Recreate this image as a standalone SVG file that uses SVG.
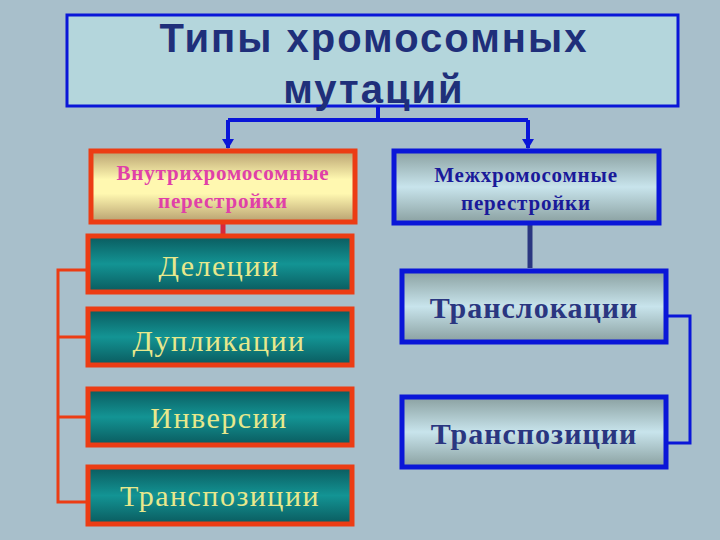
<svg xmlns="http://www.w3.org/2000/svg" width="720" height="540" viewBox="0 0 720 540">
<defs>
<linearGradient id="gy" x1="0" y1="0" x2="0" y2="1"><stop offset="0" stop-color="#b8a070"/><stop offset="0.4" stop-color="#fff8b0"/><stop offset="0.6" stop-color="#fff8b0"/><stop offset="1" stop-color="#b8a070"/></linearGradient>
<linearGradient id="gt" x1="0" y1="0" x2="0" y2="1"><stop offset="0" stop-color="#0a5a5e"/><stop offset="0.5" stop-color="#139494"/><stop offset="1" stop-color="#0a5a5e"/></linearGradient>
<linearGradient id="gb" x1="0" y1="0" x2="0" y2="1"><stop offset="0" stop-color="#8aa0a0"/><stop offset="0.5" stop-color="#c8e4ec"/><stop offset="1" stop-color="#8aa0a0"/></linearGradient>
<marker id="ad" markerWidth="12" markerHeight="10" refX="6" refY="9" markerUnits="userSpaceOnUse"><path d="M0,0 L12,0 L6,10 Z" fill="#0a16d8"/></marker>
</defs>
<style>
.red{stroke:#ec3c14;stroke-width:5}
.blu{stroke:#0a16d8;stroke-width:5}
.t{fill:url(#gt)}
.lt{font-family:"Liberation Serif",serif;font-size:30px;letter-spacing:1.5px;fill:#e8e88c;text-anchor:middle}
.rt{font-family:"Liberation Serif",serif;font-size:30px;font-weight:bold;letter-spacing:1px;fill:#2a3680;text-anchor:middle}
.sm{font-family:"Liberation Serif",serif;font-size:21px;font-weight:bold;letter-spacing:0.8px;text-anchor:middle}
.tt{font-family:"Liberation Sans",sans-serif;font-size:40px;font-weight:bold;letter-spacing:2px;fill:#1f2f7a;text-anchor:middle}
</style>
<rect width="720" height="540" fill="#a8bfcb"/>
<g id="connectors" fill="none">
<path d="M378,107 V120 M228,120 H528" stroke="#0a16d8" stroke-width="4"/>
<path d="M228,120 V148" stroke="#0a16d8" stroke-width="4" marker-end="url(#ad)"/>
<path d="M528,120 V148" stroke="#0a16d8" stroke-width="4" marker-end="url(#ad)"/>
<path d="M223,222 V236" stroke="#d8283c" stroke-width="5"/>
<path d="M87,270 H58 V502 H87 M58,337 H87 M58,417 H87" stroke="#ec3c14" stroke-width="3"/>
<path d="M530,224 V268" stroke="#2a3680" stroke-width="5"/>
<path d="M666,316 H690 V443 H666" stroke="#0a16d8" stroke-width="3"/>
</g>
<g id="title">
<rect x="67" y="15" width="611" height="91" fill="#b4d6dc" stroke="#0a16d8" stroke-width="3"/>
<text x="374" y="52" class="tt">Типы хромосомных</text>
<text x="374" y="103" class="tt">мутаций</text>
</g>
<g id="intra">
<rect x="91" y="151" width="264" height="71" fill="url(#gy)" class="red"/>
<text x="223" y="180" class="sm" fill="#e040a8">Внутрихромосомные</text>
<text x="223" y="208" class="sm" fill="#e040a8">перестройки</text>
</g>
<g id="inter">
<rect x="394" y="151" width="265" height="72" fill="url(#gb)" class="blu"/>
<text x="526" y="182" class="sm" fill="#1a1a9a">Межхромосомные</text>
<text x="526" y="210" class="sm" fill="#1a1a9a">перестройки</text>
</g>
<g id="del"><rect x="88" y="236" width="264" height="56" class="t red"/><text x="219" y="276" class="lt">Делеции</text></g>
<g id="dup"><rect x="88" y="309" width="264" height="56" class="t red"/><text x="219" y="351" class="lt">Дупликации</text></g>
<g id="inv"><rect x="88" y="389" width="264" height="56" class="t red"/><text x="219" y="428" class="lt">Инверсии</text></g>
<g id="trp1"><rect x="88" y="467" width="264" height="57" class="t red"/><text x="220" y="506" class="lt">Транспозиции</text></g>
<g id="trl"><rect x="402" y="271" width="264" height="71" fill="url(#gb)" class="blu"/><text x="534" y="318" class="rt">Транслокации</text></g>
<g id="trp2"><rect x="402" y="397" width="264" height="70" fill="url(#gb)" class="blu"/><text x="534" y="444" class="rt">Транспозиции</text></g>
</svg>
